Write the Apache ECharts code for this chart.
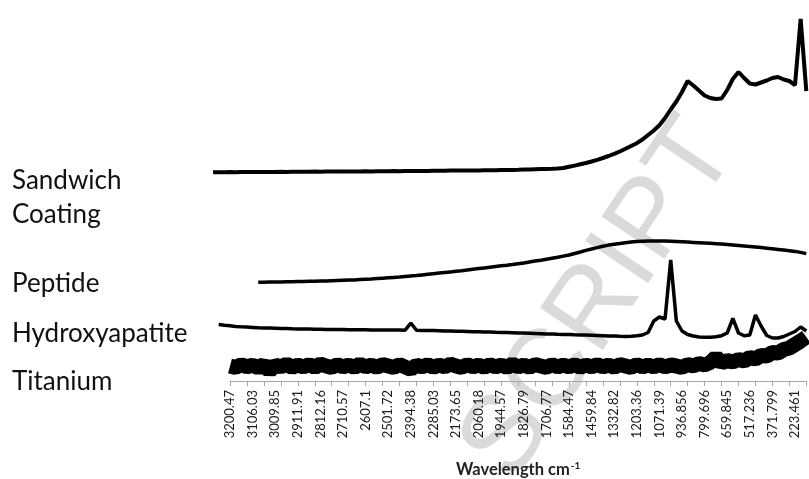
<!DOCTYPE html>
<html>
<head>
<meta charset="utf-8">
<script src="https://cdn.jsdelivr.net/npm/echarts@6/dist/echarts.min.js"></script>
<style>
  html, body { margin: 0; padding: 0; background: #fff; }
  #chart { width: 809px; height: 479px; }
</style>
</head>
<body>
<div id="chart"></div>
<script>
// Raman shift tick labels (cm-1), one every fourth detector channel
const shiftLabels = ['3200.47', '3106.03', '3009.85', '2911.91', '2812.16', '2710.57', '2607.1',
  '2501.72', '2394.38', '2285.03', '2173.65', '2060.18', '1944.57', '1826.79', '1706.77',
  '1584.47', '1459.84', '1332.82', '1203.36', '1071.39', '936.856', '799.696', '659.845',
  '517.236', '371.799', '223.461'];

const seriesNames = ['Sandwich Coating', 'Peptide', 'Hydroxyapatite', 'Titanium'];

// Stacked spectra, intensity in arbitrary offset units (106 channels, 3 before 3200.47)
const sandwichCoating = [
  208.7, 208.8, 208.7, 208.9, 208.8, 208.9, 209.0, 208.9, 209.0, 209.1,
  209.0, 209.1, 209.2, 209.1, 209.2, 209.3, 209.2, 209.3, 209.4, 209.3,
  209.4, 209.5, 209.4, 209.5, 209.6, 209.5, 209.6, 209.7, 209.6, 209.7,
  209.8, 209.8, 209.9, 209.8, 209.9, 210.0, 210.0, 210.1, 210.1, 210.2,
  210.3, 210.3, 210.4, 210.4, 210.5, 210.5, 210.6, 210.6, 210.7, 210.7,
  210.8, 210.9, 211.0, 211.1, 211.2, 211.4, 211.5, 211.7, 211.9, 212.1,
  212.3, 212.6, 213.0, 214.2, 215.4, 216.7, 218.0, 219.5, 221.2, 223.0,
  225.0, 227.2, 229.5, 232.2, 235.0, 237.8, 241.5, 246.0, 250.5, 255.8,
  263.0, 271.5, 279.5, 289.0, 300.0, 295.5, 290.5, 285.5, 283.0, 282.0,
  282.5, 291.0, 302.0, 309.0, 303.0, 297.5, 296.5, 298.5, 300.5, 303.0,
  304.0, 301.5, 300.0, 296.0, 362.0, 290.0
];

const peptide = [
  null, null, null, null, null, null, null, null, 98.7, 98.8,
  98.9, 99.0, 99.1, 99.2, 99.3, 99.4, 99.5, 99.7, 99.8, 100.0,
  100.1, 100.3, 100.5, 100.7, 100.9, 101.1, 101.4, 101.7, 102.0, 102.4,
  102.8, 103.2, 103.6, 104.0, 104.5, 105.0, 105.5, 106.1, 106.7, 107.3,
  107.9, 108.5, 109.1, 109.7, 110.3, 111.0, 111.7, 112.4, 113.1, 113.8,
  114.5, 115.2, 115.8, 116.5, 117.3, 118.1, 119.0, 119.9, 120.8, 121.8,
  122.8, 123.8, 124.9, 126.0, 127.5, 129.0, 130.6, 132.0, 133.4, 134.8,
  135.9, 136.8, 137.6, 138.3, 138.9, 139.4, 139.8, 140.0, 140.1, 140.1,
  140.0, 139.8, 139.5, 139.2, 138.9, 138.6, 138.3, 138.0, 137.7, 137.3,
  136.9, 136.5, 136.0, 135.5, 135.0, 134.5, 134.0, 133.4, 132.8, 132.2,
  131.6, 131.0, 130.3, 129.6, 128.6, 127.4
];

const hydroxyapatite = [
  null, 56.5, 55.8, 55.2, 54.6, 54.2, 53.9, 53.6, 53.3, 53.1,
  52.9, 52.7, 52.5, 52.4, 52.2, 52.1, 52.0, 51.9, 51.8, 51.7,
  51.6, 51.5, 51.4, 51.4, 51.3, 51.3, 51.2, 51.2, 51.1, 51.1,
  51.0, 51.0, 50.9, 50.9, 50.8, 58.0, 50.7, 50.6, 50.5, 50.4,
  50.3, 50.1, 50.0, 49.8, 49.7, 49.5, 49.3, 49.2, 49.0, 48.9,
  48.7, 48.6, 48.4, 48.2, 48.0, 47.9, 47.7, 47.5, 47.3, 47.1,
  46.9, 46.7, 46.6, 46.4, 46.2, 46.1, 45.9, 45.7, 45.5, 45.3,
  45.1, 44.9, 44.7, 44.6, 44.8, 45.3, 46.0, 48.5, 60.0, 64.0,
  62.0, 121.0, 60.0, 50.0, 46.5, 45.0, 44.0, 43.7, 43.8, 44.3,
  45.3, 48.0, 62.5, 48.0, 45.2, 46.0, 66.0, 55.0, 45.5, 43.0,
  43.0, 44.5, 47.0, 49.5, 54.0, 50.0
];

// Titanium starts at the 3200.47 channel (103 channels)
const titanium = [
  15, 13.5, 16.5, 14, 16, 13, 16.5, 10, 16, 14,
  17, 13.5, 16, 14, 16.5, 13.5, 17, 15, 13.5, 16.5,
  14, 16, 13.5, 17, 14, 16, 13.5, 16.5, 15, 13.5,
  16.5, 14, 11.5, 16, 14, 16.5, 13.5, 16, 14, 17,
  15, 13.5, 16.5, 14, 16, 13.5, 16.5, 14, 16, 13.5,
  17, 14, 16, 13.5, 16.5, 15, 13.5, 16.5, 14, 16,
  14, 16.5, 13.5, 16, 14, 16.5, 14, 16, 13.5, 16.5,
  15, 13.5, 16.5, 14, 16, 14, 16.5, 14, 16, 15,
  13.5, 16.5, 15, 17.5, 16, 18.5, 24, 18, 20.5, 19,
  21.5, 20, 23.5, 22, 25.5, 25, 28.5, 28, 31.5, 33,
  36.5, 40, 44
];

// Category axis: a label on every fourth channel, blanks between
const axisCategories = [];
shiftLabels.forEach(function (lab, k) {
  axisCategories.push(lab);
  if (k < shiftLabels.length - 1) axisCategories.push('', '', '');
});
axisCategories.push('', '');
const offsetCategories = ['', '', ''].concat(axisCategories);

const FONT = 'Lato, "Open Sans", sans-serif';
const chart = echarts.init(document.getElementById('chart'), null, { renderer: 'canvas' });

const sideLabels = [
  { text: 'Sandwich', y: 180.5 },
  { text: 'Coating', y: 214.5 },
  { text: 'Peptide', y: 283.5 },
  { text: 'Hydroxyapatite', y: 334 },
  { text: 'Titanium', y: 381.5 }
];

const lineSeries = function (name, data, axisIndex, width) {
  return {
    name: name,
    type: 'line',
    data: data,
    xAxisIndex: axisIndex,
    yAxisIndex: axisIndex,
    showSymbol: false,
    symbol: 'none',
    smooth: false,
    connectNulls: false,
    lineStyle: { color: '#000', width: width, join: 'bevel', cap: 'butt' },
    z: 3
  };
};

chart.setOption({
  animation: false,
  backgroundColor: '#fff',
  grid: [
    { left: 230, right: 2.7, top: 0, bottom: 98, outerBoundsMode: 'none', containLabel: false },
    { left: 213.05, right: 2.7, top: 0, bottom: 98, outerBoundsMode: 'none', containLabel: false }
  ],
  xAxis: [
    {
      type: 'category',
      gridIndex: 0,
      data: axisCategories,
      boundaryGap: false,
      axisLine: { show: true, lineStyle: { color: '#a6a6a6', width: 1 } },
      axisTick: { show: true, interval: 2, length: 5, lineStyle: { color: '#a6a6a6' } },
      axisLabel: {
        interval: 3, rotate: 90, margin: 9, color: '#1a1a1a',
        fontFamily: FONT, fontSize: 13
      },
      splitLine: { show: false },
      name: '{a|Wavelength cm}{b|-1}',
      nameLocation: 'middle',
      nameGap: 80,
      nameTextStyle: {
        rich: {
          a: { fontFamily: FONT, fontSize: 16.5, fontWeight: 'bold', color: '#222' },
          b: { fontFamily: FONT, fontSize: 10, fontWeight: 'bold', color: '#222', verticalAlign: 'top', padding: [0, 0, 7, 1] }
        }
      }
    },
    {
      type: 'category',
      gridIndex: 1,
      data: offsetCategories,
      boundaryGap: false,
      show: false
    }
  ],
  yAxis: [
    { type: 'value', gridIndex: 0, min: 0, max: 381, show: false },
    { type: 'value', gridIndex: 1, min: 0, max: 381, show: false }
  ],
  graphic: [
    {
      type: 'text', x: 600, y: 300, rotation: 56 * Math.PI / 180, silent: true, z: -10,
      style: {
        text: 'SCRIPT', fontSize: 110, fontFamily: '"Liberation Sans", Arial, sans-serif',
        fill: '#dadada', textAlign: 'center', textVerticalAlign: 'middle',
        align: 'center', verticalAlign: 'middle'
      }
    }
  ].concat(sideLabels.map(function (s) {
    return {
      type: 'text', x: 12, y: s.y, silent: true,
      style: {
        text: s.text, fontSize: 26, fontFamily: FONT, fill: '#111',
        textAlign: 'left', textVerticalAlign: 'middle', align: 'left', verticalAlign: 'middle'
      }
    };
  })),
  series: [
    lineSeries(seriesNames[0], sandwichCoating, 1, 4),
    lineSeries(seriesNames[1], peptide, 1, 3.5),
    lineSeries(seriesNames[2], hydroxyapatite, 1, 3.5),
    lineSeries(seriesNames[3], titanium, 0, 15)
  ]
});
</script>
</body>
</html>
